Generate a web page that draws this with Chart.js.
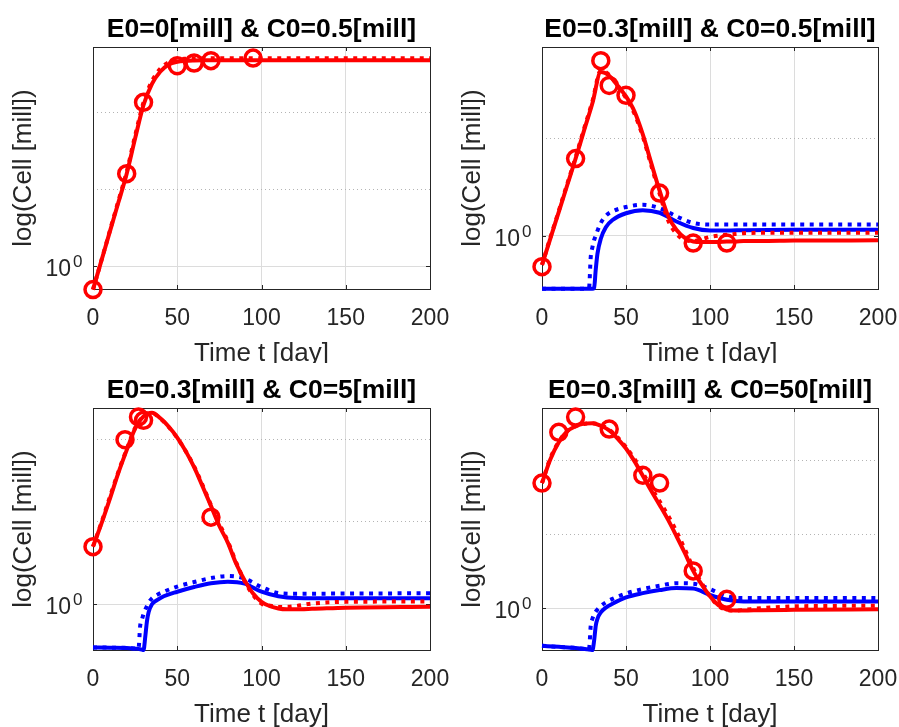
<!DOCTYPE html>
<html>
<head>
<meta charset="utf-8">
<script src="https://cdn.jsdelivr.net/npm/chart.js@4.4.1/dist/chart.umd.min.js"></script>
<style>
  html, body { margin: 0; padding: 0; background: #fff; }
  #wrap { position: relative; width: 899px; height: 727px; overflow: hidden; }
  canvas { position: absolute; }
</style>
</head>
<body>
<div id="wrap">
  <canvas id="p1" width="450" height="363" style="left:0px;top:0px"></canvas>
  <canvas id="p2" width="449" height="363" style="left:450px;top:0px"></canvas>
  <canvas id="p3" width="450" height="364" style="left:0px;top:363px"></canvas>
  <canvas id="p4" width="449" height="364" style="left:450px;top:363px"></canvas>
</div>
<script>
// ---- data (cells in millions, time in days) ----
const tRed = [0, 5, 10, 15, 20, 25, 30, 35, 40, 45, 50, 55, 60, 65, 70, 75, 80, 85, 90, 95, 100, 105, 110, 115, 120, 130, 150, 200];
const tBlue = [0, 10, 20, 27, 28, 29, 30, 31, 32, 33, 35, 38, 42, 50, 60, 70, 80, 90, 100, 110, 120, 150, 200];
const xTicks = [0, 50, 100, 150, 200];
const yGridVals = [1, 10, 100];

const titles = [
  "E0=0[mill] & C0=0.5[mill]",
  "E0=0.3[mill] & C0=0.5[mill]",
  "E0=0.3[mill] & C0=5[mill]",
  "E0=0.3[mill] & C0=50[mill]"
];
const xLabel = "Time t [day]";
const yLabel = "log(Cell [mill])";

// panel 1
const p1Days = [0, 20, 30, 50, 60, 70, 95];
const p1Obs = [0.5, 16, 135, 404, 438, 470, 508];
const p1Red = [0.5, 1.19, 2.83, 6.7, 16, 46, 125, 235, 340, 420, 455, 468, 473, 475, 475, 475, 475, 475, 475, 475, 475, 475, 475, 475, 475, 475, 475, 475];
const p1RedDot = [0.5, 1.2, 2.9, 7.0, 17, 50, 135, 255, 370, 450, 485, 498, 503, 505, 505, 505, 505, 505, 505, 505, 505, 505, 505, 505, 505, 505, 505, 505];

// panel 2
const p2Days = [0, 20, 35, 40, 50, 70, 90, 110];
const p2Obs = [0.48, 6.2, 63, 35, 27.7, 2.74, 0.84, 0.84];
const p2Red = [0.5, 0.94, 1.76, 3.3, 6.2, 12, 23, 48, 44, 35, 27, 19, 11, 5.6, 2.9, 1.6, 1.15, 0.95, 0.87, 0.86, 0.86, 0.86, 0.87, 0.87, 0.88, 0.88, 0.89, 0.895];
const p2RedDot = [0.5, 0.96, 1.8, 3.4, 6.4, 12.5, 24, 50, 45, 35, 26, 18, 10.5, 5.3, 2.7, 1.45, 1.05, 0.9, 0.88, 0.92, 0.97, 1.0, 1.02, 1.04, 1.06, 1.07, 1.07, 1.07];
const p2Blue = [0.285, 0.285, 0.285, 0.285, 0.285, 0.285, 0.285, 0.29, 0.45, 0.65, 0.93, 1.22, 1.45, 1.70, 1.83, 1.72, 1.40, 1.20, 1.13, 1.13, 1.14, 1.15, 1.15];
const p2BlueDot = [0.285, 0.285, 0.285, 0.285, 0.29, 0.6, 0.76, 0.9, 1.0, 1.12, 1.35, 1.6, 1.78, 1.97, 2.08, 1.92, 1.58, 1.35, 1.3, 1.3, 1.3, 1.3, 1.3];

// panel 3
const p3Days = [0, 19, 27, 30, 70];
const p3Obs = [5, 99, 187, 170, 11.4];
const p3Red = [5.0, 9.5, 19, 39, 74, 135, 190, 210, 180, 142, 105, 72, 46, 27, 15.6, 8.9, 5.6, 3.1, 1.95, 1.35, 1.07, 0.95, 0.89, 0.87, 0.87, 0.88, 0.91, 0.935];
const p3RedDot = [5.0, 9.8, 20, 40, 76, 138, 192, 208, 178, 140, 104, 72, 47, 28, 16, 9.5, 5.8, 3.2, 1.9, 1.3, 1.02, 0.96, 0.93, 0.93, 0.95, 1.02, 1.07, 1.08];
const p3Blue = [0.30, 0.298, 0.296, 0.288, 0.285, 0.282, 0.279, 0.4, 0.62, 0.8, 1.0, 1.12, 1.25, 1.42, 1.62, 1.8, 1.88, 1.78, 1.42, 1.25, 1.19, 1.18, 1.18];
const p3BlueDot = [0.30, 0.298, 0.296, 0.29, 0.55, 0.65, 0.76, 0.86, 0.95, 1.05, 1.18, 1.3, 1.42, 1.64, 1.86, 2.08, 2.2, 2.05, 1.62, 1.37, 1.34, 1.35, 1.36];

// panel 4
const p4Days = [0, 10, 20, 40, 60, 70, 90, 110];
const p4Obs = [49.4, 240, 387, 266, 63, 49.5, 3.2, 1.32];
const p4Red = [49.4, 104, 176, 248, 290, 315, 320, 295, 255, 198, 145, 98, 62, 39, 25, 15.8, 9.5, 5.6, 3.2, 2.1, 1.45, 1.1, 0.96, 0.93, 0.93, 0.94, 0.95, 0.97];
const p4RedDot = [49.4, 108, 180, 250, 290, 312, 318, 300, 262, 205, 152, 105, 68, 43, 28, 18, 11, 6.3, 3.5, 2.2, 1.45, 1.08, 0.95, 0.93, 0.95, 1.0, 1.06, 1.08];
const p4Blue = [0.31, 0.30, 0.29, 0.278, 0.276, 0.274, 0.272, 0.36, 0.58, 0.72, 0.88, 1.02, 1.15, 1.40, 1.60, 1.76, 1.88, 1.85, 1.51, 1.30, 1.23, 1.23, 1.23];
const p4BlueDot = [0.31, 0.30, 0.29, 0.278, 0.28, 0.58, 0.72, 0.82, 0.9, 0.96, 1.07, 1.2, 1.34, 1.58, 1.82, 2.02, 2.18, 2.15, 1.81, 1.45, 1.37, 1.37, 1.37];

// ---- styling / layout ----
const RED = "#ff0000";
const BLUE = "#0000ff";
const FONT = '"Liberation Sans", Arial, Helvetica, sans-serif';
const AXIS_COLOR = "#262626";

const panels = [
  { id: "p1", pad: { left: 93, top: 47, right: 20, bottom: 74 }, yMin: 0.509, yMax: 707,
    obs: [p1Days, p1Obs], red: p1Red, redDot: p1RedDot },
  { id: "p2", pad: { left: 92, top: 47, right: 21, bottom: 74 }, yMin: 0.283, yMax: 87,
    obs: [p2Days, p2Obs], red: p2Red, redDot: p2RedDot, blue: p2Blue, blueDot: p2BlueDot },
  { id: "p3", pad: { left: 93, top: 45, right: 20, bottom: 77 }, yMin: 0.279, yMax: 240,
    obs: [p3Days, p3Obs], red: p3Red, redDot: p3RedDot, blue: p3Blue, blueDot: p3BlueDot },
  { id: "p4", pad: { left: 92, top: 45, right: 21, bottom: 77 }, yMin: 0.272, yMax: 513,
    obs: [p4Days, p4Obs], red: p4Red, redDot: p4RedDot, blue: p4Blue, blueDot: p4BlueDot }
];

function pair(ts, vs) {
  return ts.map((t, i) => ({ x: t, y: vs[i] }));
}

// MATLAB-like box, tick marks and texts
const matlabAxes = {
  id: "matlabAxes",
  beforeDatasetsDraw(chart) {
    const { ctx, chartArea: a, scales: { x, y } } = chart;
    ctx.save();
    ctx.strokeStyle = AXIS_COLOR;
    ctx.lineWidth = 1;
    ctx.strokeRect(a.left + 0.5, a.top + 0.5, a.right - a.left, a.bottom - a.top);
    ctx.beginPath();
    xTicks.forEach(v => {
      const px = Math.round(x.getPixelForValue(v)) + 0.5;
      ctx.moveTo(px, a.bottom); ctx.lineTo(px, a.bottom - 4);
      ctx.moveTo(px, a.top); ctx.lineTo(px, a.top + 4);
    });
    const py = Math.round(y.getPixelForValue(1)) + 0.5;
    ctx.moveTo(a.left, py); ctx.lineTo(a.left + 4, py);
    ctx.moveTo(a.right, py); ctx.lineTo(a.right - 4, py);
    ctx.stroke();
    ctx.restore();
  },
  afterDraw(chart, args, opts) {
    const { ctx, chartArea: a, scales: { x, y } } = chart;
    const cx = (a.left + a.right) / 2;
    ctx.save();
    ctx.textBaseline = "alphabetic";
    // title
    ctx.fillStyle = "#000";
    ctx.font = "bold 26.5px " + FONT;
    ctx.textAlign = "center";
    ctx.fillText(opts.title, cx, a.top - 10);
    // x tick labels
    ctx.fillStyle = AXIS_COLOR;
    ctx.font = "23px " + FONT;
    xTicks.forEach(v => ctx.fillText(String(v), x.getPixelForValue(v), a.bottom + 36));
    // x label
    ctx.font = "26px " + FONT;
    ctx.fillText(xLabel, cx, a.bottom + 72);
    // y label
    ctx.save();
    ctx.translate(a.left - 62, (a.top + a.bottom) / 2);
    ctx.rotate(-Math.PI / 2);
    ctx.fillText(yLabel, 0, 0);
    ctx.restore();
    // 10^0
    const py = y.getPixelForValue(1);
    ctx.textAlign = "right";
    ctx.font = "17px " + FONT;
    const supW = ctx.measureText("0").width;
    ctx.fillText("0", a.left - 10.5, py + 1);
    ctx.font = "23px " + FONT;
    ctx.fillText("10", a.left - 10.5 - supW - 2, py + 10);
    ctx.restore();
  }
};

panels.forEach((p, k) => {
  const lineBase = { pointRadius: 0, borderWidth: 4, cubicInterpolationMode: "monotone", clip: false, fill: false };
  const datasets = [
    { data: pair(p.obs[0], p.obs[1]), showLine: false, pointRadius: 8, pointBorderWidth: 3.5,
      pointBorderColor: RED, pointBackgroundColor: "rgba(0,0,0,0)", clip: false },
    Object.assign({ data: pair(tRed, p.redDot), borderColor: RED, borderDash: [4, 5.5] }, lineBase),
    Object.assign({ data: pair(tRed, p.red), borderColor: RED }, lineBase)
  ];
  if (p.blue) {
    datasets.push(Object.assign({ data: pair(tBlue, p.blueDot), borderColor: BLUE, borderDash: [4, 5.5] }, lineBase));
    datasets.push(Object.assign({ data: pair(tBlue, p.blue), borderColor: BLUE }, lineBase));
  }
  new Chart(document.getElementById(p.id), {
    type: "line",
    data: { datasets },
    plugins: [matlabAxes],
    options: {
      responsive: false,
      animation: false,
      events: [],
      devicePixelRatio: 1,
      layout: { padding: p.pad },
      plugins: {
        legend: { display: false },
        tooltip: { enabled: false },
        matlabAxes: { title: titles[k] }
      },
      scales: {
        x: {
          type: "linear", min: 0, max: 200,
          afterBuildTicks: s => { s.ticks = xTicks.map(v => ({ value: v })); },
          ticks: { display: false },
          grid: { color: "#dcdcdc", lineWidth: 1, drawTicks: false },
          border: { display: false }
        },
        y: {
          type: "logarithmic", min: p.yMin, max: p.yMax,
          afterBuildTicks: s => {
            s.ticks = yGridVals.filter(v => v >= s.min && v <= s.max).map(v => ({ value: v }));
          },
          ticks: { display: false },
          grid: {
            color: c => (c.tick && c.tick.value === 1) ? "#dcdcdc" : "#b4b4b4",
            lineWidth: 1, drawTicks: false
          },
          border: {
            display: false,
            dash: c => (c.tick && c.tick.value === 1) ? [] : [1, 3]
          }
        }
      }
    }
  });
});
</script>
</body>
</html>
